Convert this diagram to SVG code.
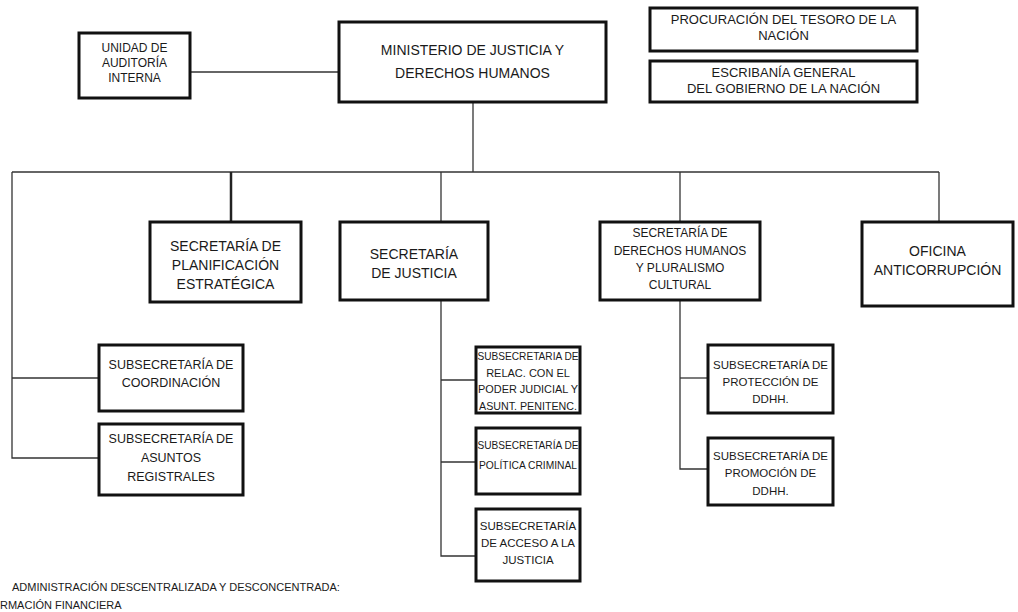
<svg xmlns="http://www.w3.org/2000/svg" width="1018" height="612" viewBox="0 0 1018 612">
<style>
.box{fill:#fff;stroke:#111;stroke-width:3}
.t{font-family:"Liberation Sans",Arial,sans-serif;fill:#1a1a1a;text-anchor:middle}
.c{stroke:#333;stroke-width:1.3;fill:none}
.ck{stroke:#222;stroke-width:2.5;fill:none}
.f14{font-size:14px}.f13{font-size:13px}.f12{font-size:12px}.f125{font-size:12.5px}.f115{font-size:11.5px}.f11{font-size:11px}.f105{font-size:10.5px}
</style>
<rect width="1018" height="612" fill="#fff"/>
<g id="connectors">
<path class="c" d="M190 72H339"/>
<path class="c" d="M473 102V172"/>
<path class="c" d="M12 172H939"/>
<path class="c" d="M12 172V458H99"/>
<path class="c" d="M12 378H99"/>
<path class="ck" d="M231 172V222"/>
<path class="c" d="M441 172V222"/>
<path class="c" d="M680 172V222"/>
<path class="c" d="M939 172V222"/>
<path class="c" d="M441 300V556H476"/>
<path class="c" d="M441 380H476"/>
<path class="c" d="M441 462H476"/>
<path class="c" d="M680 300V469H708"/>
<path class="c" d="M680 378H708"/>
</g>
<g id="unidad"><rect class="box" x="79" y="33" width="111" height="65"/>
<text class="t f12" x="134.5" y="52">UNIDAD DE</text><text class="t f12" x="134.5" y="67">AUDITORÍA</text><text class="t f12" x="134.5" y="82">INTERNA</text></g>
<g id="ministerio"><rect class="box" x="339" y="22" width="267" height="80"/>
<text class="t f14" x="472.5" y="55">MINISTERIO DE JUSTICIA Y</text><text class="t f14" x="472.5" y="78">DERECHOS HUMANOS</text></g>
<g id="procuracion"><rect class="box" x="650" y="8" width="267" height="43"/>
<text class="t f13" x="783.5" y="24">PROCURACIÓN DEL TESORO DE LA</text><text class="t f13" x="783.5" y="40">NACIÓN</text></g>
<g id="escribania"><rect class="box" x="650" y="61" width="267" height="41"/>
<text class="t f13" x="783.5" y="77">ESCRIBANÍA GENERAL</text><text class="t f13" x="783.5" y="93">DEL GOBIERNO DE LA NACIÓN</text></g>
<g id="planificacion"><rect class="box" x="150" y="222" width="151" height="80"/>
<text class="t f14" x="225.5" y="251">SECRETARÍA DE</text><text class="t f14" x="225.5" y="270">PLANIFICACIÓN</text><text class="t f14" x="225.5" y="289">ESTRATÉGICA</text></g>
<g id="justicia"><rect class="box" x="340" y="222" width="148" height="78"/>
<text class="t f14" x="414" y="259">SECRETARÍA</text><text class="t f14" x="414" y="278">DE JUSTICIA</text></g>
<g id="ddhh"><rect class="box" x="600" y="222" width="160" height="78"/>
<text class="t f12" x="680" y="237">SECRETARÍA DE</text><text class="t f12" x="680" y="255">DERECHOS HUMANOS</text><text class="t f12" x="680" y="272">Y PLURALISMO</text><text class="t f12" x="680" y="289">CULTURAL</text></g>
<g id="oficina"><rect class="box" x="862" y="222" width="151" height="84"/>
<text class="t f14" x="937.5" y="256">OFICINA</text><text class="t f14" x="937.5" y="275">ANTICORRUPCIÓN</text></g>
<g id="coordinacion"><rect class="box" x="99" y="345" width="144" height="66"/>
<text class="t f125" x="171" y="369">SUBSECRETARÍA DE</text><text class="t f125" x="171" y="387">COORDINACIÓN</text></g>
<g id="asuntos"><rect class="box" x="99" y="424" width="144" height="71"/>
<text class="t f125" x="171" y="443">SUBSECRETARÍA DE</text><text class="t f125" x="171" y="462">ASUNTOS</text><text class="t f125" x="171" y="481">REGISTRALES</text></g>
<g id="relac"><rect class="box" x="476" y="347" width="104" height="66"/>
<text class="t f11" x="528" y="360" textLength="101" lengthAdjust="spacingAndGlyphs">SUBSECRETARIA DE</text><text class="t f11" x="528" y="377">RELAC. CON EL</text><text class="t f11" x="528" y="393" textLength="100" lengthAdjust="spacingAndGlyphs">PODER JUDICIAL Y</text><text class="t f11" x="528" y="410" textLength="98" lengthAdjust="spacingAndGlyphs">ASUNT. PENITENC.</text></g>
<g id="politica"><rect class="box" x="476" y="428" width="104" height="66"/>
<text class="t f11" x="528" y="449" textLength="101" lengthAdjust="spacingAndGlyphs">SUBSECRETARÍA DE</text><text class="t f11" x="528" y="469" textLength="98" lengthAdjust="spacingAndGlyphs">POLÍTICA CRIMINAL</text></g>
<g id="acceso"><rect class="box" x="476" y="509" width="104" height="72"/>
<text class="t f115" x="528" y="530">SUBSECRETARÍA</text><text class="t f115" x="528" y="547">DE ACCESO A LA</text><text class="t f115" x="528" y="564">JUSTICIA</text></g>
<g id="proteccion"><rect class="box" x="708" y="345" width="125" height="68"/>
<text class="t f115" x="770.5" y="369">SUBSECRETARÍA DE</text><text class="t f115" x="770.5" y="386">PROTECCIÓN DE</text><text class="t f115" x="770.5" y="403">DDHH.</text></g>
<g id="promocion"><rect class="box" x="708" y="438" width="125" height="67"/>
<text class="t f115" x="770.5" y="460">SUBSECRETARÍA DE</text><text class="t f115" x="770.5" y="477">PROMOCIÓN DE</text><text class="t f115" x="770.5" y="495">DDHH.</text></g>
<g id="nota">
<text x="12" y="591" style="font-family:'Liberation Sans',Arial,sans-serif;font-size:11px;fill:#1a1a1a">ADMINISTRACIÓN DESCENTRALIZADA Y DESCONCENTRADA:</text>
<text x="0" y="609" style="font-family:'Liberation Sans',Arial,sans-serif;font-size:11px;fill:#1a1a1a">RMACIÓN FINANCIERA</text>
</g>
</svg>
